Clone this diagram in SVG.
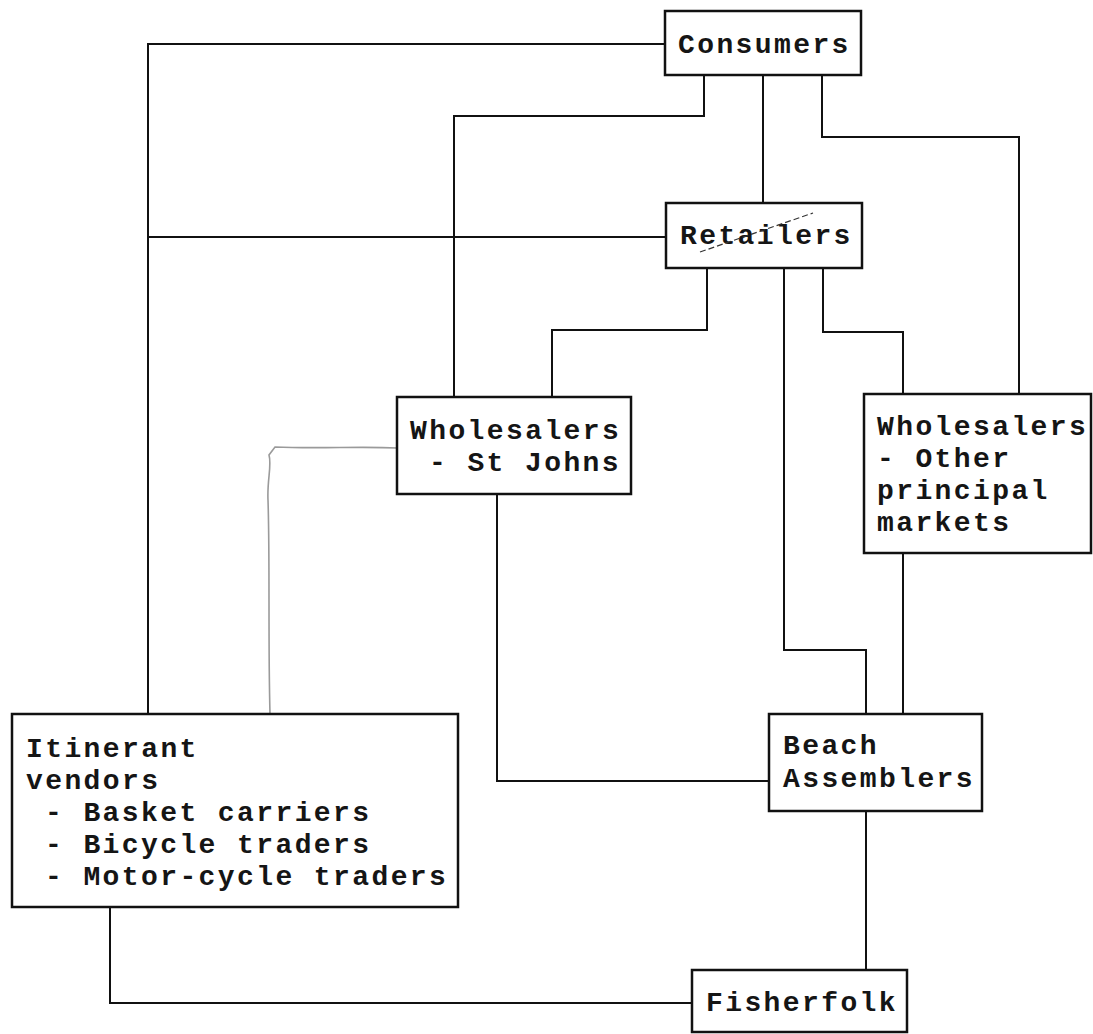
<svg xmlns="http://www.w3.org/2000/svg" width="1093" height="1034" viewBox="0 0 1093 1034">
<style>
.box{fill:#fff;stroke:#111;stroke-width:2.5}
.t{font-family:"Liberation Mono","Courier New",monospace;font-size:28px;letter-spacing:2.4px;font-weight:bold;fill:#151515}
.c{fill:none;stroke:#111;stroke-width:2}
.g{fill:none;stroke:#9a9a9a;stroke-width:1.6}
</style>
<rect width="1093" height="1034" fill="#fff"/>
<g id="connectors">
<polyline class="c" points="665,44 148,44 148,714"/>
<polyline class="c" points="666,237 148,237"/>
<polyline class="c" points="704,75 704,116 454,116 454,397"/>
<polyline class="c" points="763,75 763,203"/>
<polyline class="c" points="822,75 822,137 1019,137 1019,394"/>
<polyline class="c" points="707,268 707,330 552,330 552,397"/>
<polyline class="c" points="784,268 784,650 866,650 866,714"/>
<polyline class="c" points="823,268 823,332 903,332 903,394"/>
<polyline class="c" points="903,553 903,714"/>
<polyline class="c" points="497,494 497,781 769,781"/>
<polyline class="c" points="866,811 866,970"/>
<polyline class="c" points="110,907 110,1003 692,1003"/>
<path class="g" d="M270,714 C268,640 270,560 268,500 C267,480 272,465 269,455 L275,447 C320,449 360,446 397,448"/>
</g>
<g id="consumers">
<rect class="box" x="665" y="11" width="196" height="64"/>
<text class="t" x="678" y="53">Consumers</text>
</g>
<g id="retailers">
<rect class="box" x="666" y="203" width="196" height="65"/>
<text class="t" x="680" y="244">Retailers</text>
<line x1="700" y1="252" x2="813" y2="213" stroke="#333" stroke-width="1.2" stroke-dasharray="6,3"/>
</g>
<g id="wholesalers-stjohns">
<rect class="box" x="397" y="397" width="234" height="97"/>
<text class="t" x="410" y="439">Wholesalers</text>
<text class="t" x="429" y="471">- St Johns</text>
</g>
<g id="wholesalers-other">
<rect class="box" x="864" y="394" width="227" height="159"/>
<text class="t" x="877" y="435">Wholesalers</text>
<text class="t" x="877" y="467">- Other</text>
<text class="t" x="877" y="499">principal</text>
<text class="t" x="877" y="531">markets</text>
</g>
<g id="itinerant">
<rect class="box" x="12" y="714" width="446" height="193"/>
<text class="t" x="26" y="757">Itinerant</text>
<text class="t" x="26" y="789">vendors</text>
<text class="t" x="45" y="821">- Basket carriers</text>
<text class="t" x="45" y="853">- Bicycle traders</text>
<text class="t" x="45" y="885">- Motor-cycle traders</text>
</g>
<g id="beach-assemblers">
<rect class="box" x="769" y="714" width="213" height="97"/>
<text class="t" x="783" y="754">Beach</text>
<text class="t" x="783" y="787">Assemblers</text>
</g>
<g id="fisherfolk">
<rect class="box" x="692" y="970" width="215" height="62"/>
<text class="t" x="706" y="1011">Fisherfolk</text>
</g>
</svg>
